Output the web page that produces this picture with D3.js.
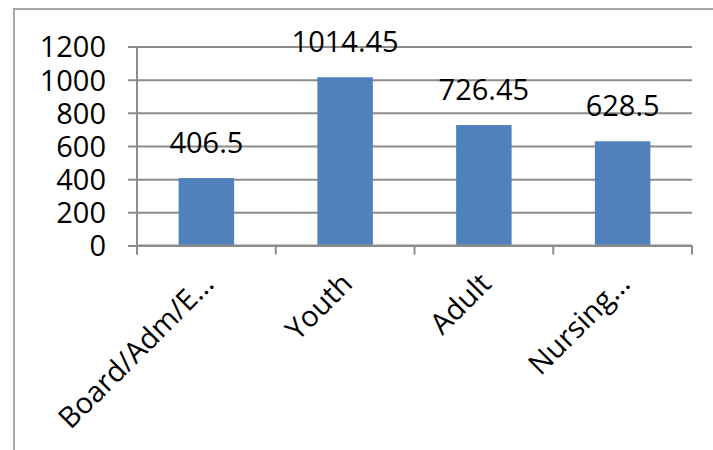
<!DOCTYPE html>
<html>
<head>
<meta charset="utf-8">
<script src="https://cdn.jsdelivr.net/npm/d3@7"></script>
<style>
  html, body { margin: 0; padding: 0; background: #fff; }
  svg { display: block; }
  text { font-family: "Open Sans", sans-serif; fill: #000; }
</style>
</head>
<body>
<svg id="chart" width="713" height="450"></svg>
<script>
// Department totals
const categories = ["Board/Adm/E…", "Youth", "Adult", "Nursing…"];
const values = [406.5, 1014.45, 726.45, 628.5];
const yTicks = [0, 200, 400, 600, 800, 1000, 1200];

const svg = d3.select("#chart");
const W = 713, H = 450;
const margin = { left: 137, right: 21, top: 46.5, bottom: 204.5 };
const plotW = W - margin.left - margin.right;
const plotH = H - margin.top - margin.bottom;

// Outer chart frame
svg.append("rect")
  .attr("x", 14).attr("y", 9)
  .attr("width", W + 10).attr("height", H + 10)
  .attr("fill", "#fff")
  .attr("stroke", "#a6a6a6").attr("stroke-width", 2);

const g = svg.append("g").attr("transform", `translate(${margin.left},${margin.top})`);

const x = d3.scaleBand().domain(categories).range([0, plotW]).paddingInner(0.6).paddingOuter(0.3);
const y = d3.scaleLinear().domain([0, 1200]).range([plotH, 0]);

// Horizontal gridlines with left tick stubs
const yAxis = d3.axisLeft(y).tickValues(yTicks).tickFormat(d3.format("d")).tickSize(-plotW).tickPadding(31);
const ya = g.append("g").call(yAxis);
ya.select(".domain").remove();
ya.selectAll(".tick line")
  .attr("x1", -9)
  .attr("stroke", "#8c8c8c").attr("stroke-width", 2);
ya.selectAll(".tick text")
  .attr("font-size", 29).attr("dy", "0.36em")
  .style("font-family", "'Open Sans', sans-serif").attr("fill", "#000");

// Vertical axis line
g.append("line")
  .attr("x1", 0).attr("x2", 0)
  .attr("y1", 0).attr("y2", plotH + 9)
  .attr("stroke", "#8c8c8c").attr("stroke-width", 2);

// Category boundary ticks on the baseline
const step = plotW / categories.length;
const bounds = d3.range(categories.length + 1).map(i => i * step);
g.selectAll(".xtick").data(bounds).enter().append("line")
  .attr("x1", d => d).attr("x2", d => d)
  .attr("y1", plotH).attr("y2", plotH + 9)
  .attr("stroke", "#8c8c8c").attr("stroke-width", 2);

// Bars
g.selectAll(".bar").data(values).enter().append("rect")
  .attr("x", (d, i) => x(categories[i]))
  .attr("y", d => y(d))
  .attr("width", x.bandwidth())
  .attr("height", d => plotH - y(d))
  .attr("fill", "#4f81bd");

// Baseline
g.append("line")
  .attr("x1", 0).attr("x2", plotW)
  .attr("y1", plotH).attr("y2", plotH)
  .attr("stroke", "#8c8c8c").attr("stroke-width", 2);

// Value labels
g.selectAll(".val").data(values).enter().append("text")
  .attr("x", (d, i) => x(categories[i]) + x.bandwidth() / 2)
  .attr("y", d => y(d) - 25)
  .attr("text-anchor", "middle")
  .attr("font-size", 29)
  .text(d => d);

// Rotated category labels
g.selectAll(".cat").data(categories).enter().append("text")
  .attr("transform", (d, i) => `translate(${x(d) + x.bandwidth() / 2 + 9},${plotH + 40}) rotate(-45)`)
  .attr("text-anchor", "end")
  .attr("font-size", 29)
  .text(d => d);
</script>
</body>
</html>
